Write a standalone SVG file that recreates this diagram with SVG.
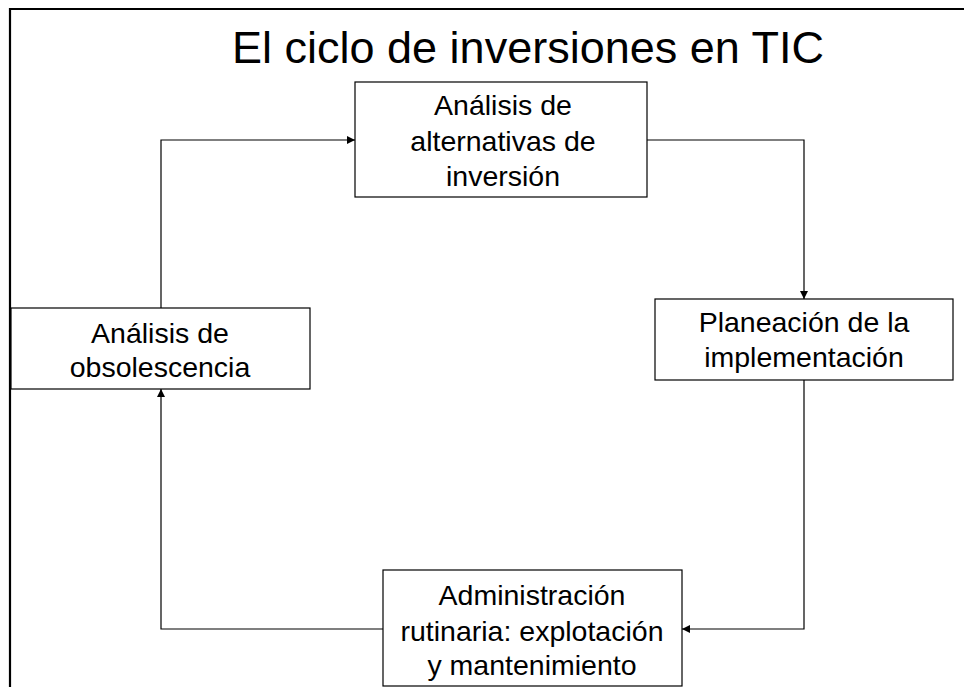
<svg xmlns="http://www.w3.org/2000/svg" width="964" height="687" viewBox="0 0 964 687">
<style>
.box{fill:#fff;stroke:#000;stroke-width:1.2}
.t{font-family:"Liberation Sans",Arial,sans-serif;font-size:28.5px;fill:#000;text-anchor:middle}
.title{font-family:"Liberation Sans",Arial,sans-serif;font-size:45px;fill:#000;text-anchor:middle}
.c{fill:none;stroke:#000;stroke-width:1.2}
</style>
<defs>
<marker id="ah" viewBox="0 0 10 10" refX="10" refY="5" markerWidth="8" markerHeight="8" markerUnits="userSpaceOnUse" orient="auto">
<path d="M0,0 L10,5 L0,10 z" fill="#000"/>
</marker>
</defs>
<rect width="964" height="687" fill="#fff"/>
<path d="M10,687 V9 H964" fill="none" stroke="#000" stroke-width="2.2"/>
<text class="title" x="528" y="63">El ciclo de inversiones en TIC</text>
<g id="connectors">
<path class="c" d="M161,308 V140 H355" marker-end="url(#ah)"/>
<path class="c" d="M647,140 H804 V299" marker-end="url(#ah)"/>
<path class="c" d="M804,380 V629 H682" marker-end="url(#ah)"/>
<path class="c" d="M383,629 H161 V389" marker-end="url(#ah)"/>
</g>
<g id="n1">
<rect class="box" x="355" y="82" width="292" height="115"/>
<text class="t" x="503" y="115">Análisis de</text>
<text class="t" x="503" y="151">alternativas de</text>
<text class="t" x="503" y="186">inversión</text>
</g>
<g id="n2">
<rect class="box" x="655" y="299" width="298" height="81"/>
<text class="t" x="804" y="332">Planeación de la</text>
<text class="t" x="804" y="367">implementación</text>
</g>
<g id="n3">
<rect class="box" x="383" y="570" width="299" height="116"/>
<text class="t" x="532" y="605">Administración</text>
<text class="t" x="532" y="641">rutinaria: explotación</text>
<text class="t" x="532" y="675">y mantenimiento</text>
</g>
<g id="n4">
<rect class="box" x="11" y="308" width="299" height="81"/>
<text class="t" x="160" y="343">Análisis de</text>
<text class="t" x="160" y="377">obsolescencia</text>
</g>
</svg>
